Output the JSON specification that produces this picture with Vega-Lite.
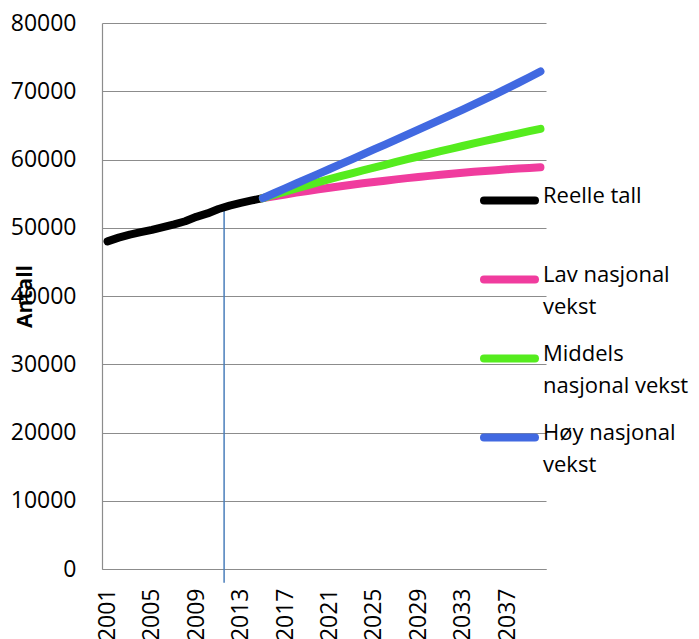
{
  "$schema": "https://vega.github.io/schema/vega-lite/v6.json",
  "width": 444,
  "height": 546,
  "autosize": "none",
  "padding": {"left": 102, "top": 23, "right": 153, "bottom": 70},
  "background": "white",
  "config": {"view": {"stroke": null}, "font": "Open Sans"},
  "datasets": {
    "marker": [{"year": 2011.5, "value": 53000, "value2": -2000}],
    "series": [
      {"series": "Reelle tall", "year": 2001, "value": 48000},
      {"series": "Reelle tall", "year": 2002, "value": 48550},
      {"series": "Reelle tall", "year": 2003, "value": 49000},
      {"series": "Reelle tall", "year": 2004, "value": 49350},
      {"series": "Reelle tall", "year": 2005, "value": 49700},
      {"series": "Reelle tall", "year": 2006, "value": 50100},
      {"series": "Reelle tall", "year": 2007, "value": 50500},
      {"series": "Reelle tall", "year": 2008, "value": 50950},
      {"series": "Reelle tall", "year": 2009, "value": 51600},
      {"series": "Reelle tall", "year": 2010, "value": 52100},
      {"series": "Reelle tall", "year": 2011, "value": 52750},
      {"series": "Reelle tall", "year": 2012, "value": 53250},
      {"series": "Reelle tall", "year": 2013, "value": 53650},
      {"series": "Reelle tall", "year": 2014, "value": 54000},
      {"series": "Reelle tall", "year": 2015, "value": 54350},
      {"series": "Lav nasjonal vekst", "year": 2015, "value": 54350},
      {"series": "Lav nasjonal vekst", "year": 2016, "value": 54620},
      {"series": "Lav nasjonal vekst", "year": 2017, "value": 54880},
      {"series": "Lav nasjonal vekst", "year": 2018, "value": 55140},
      {"series": "Lav nasjonal vekst", "year": 2019, "value": 55390},
      {"series": "Lav nasjonal vekst", "year": 2020, "value": 55630},
      {"series": "Lav nasjonal vekst", "year": 2021, "value": 55860},
      {"series": "Lav nasjonal vekst", "year": 2022, "value": 56080},
      {"series": "Lav nasjonal vekst", "year": 2023, "value": 56300},
      {"series": "Lav nasjonal vekst", "year": 2024, "value": 56510},
      {"series": "Lav nasjonal vekst", "year": 2025, "value": 56710},
      {"series": "Lav nasjonal vekst", "year": 2026, "value": 56900},
      {"series": "Lav nasjonal vekst", "year": 2027, "value": 57090},
      {"series": "Lav nasjonal vekst", "year": 2028, "value": 57270},
      {"series": "Lav nasjonal vekst", "year": 2029, "value": 57440},
      {"series": "Lav nasjonal vekst", "year": 2030, "value": 57600},
      {"series": "Lav nasjonal vekst", "year": 2031, "value": 57760},
      {"series": "Lav nasjonal vekst", "year": 2032, "value": 57910},
      {"series": "Lav nasjonal vekst", "year": 2033, "value": 58050},
      {"series": "Lav nasjonal vekst", "year": 2034, "value": 58190},
      {"series": "Lav nasjonal vekst", "year": 2035, "value": 58320},
      {"series": "Lav nasjonal vekst", "year": 2036, "value": 58440},
      {"series": "Lav nasjonal vekst", "year": 2037, "value": 58560},
      {"series": "Lav nasjonal vekst", "year": 2038, "value": 58670},
      {"series": "Lav nasjonal vekst", "year": 2039, "value": 58770},
      {"series": "Lav nasjonal vekst", "year": 2040, "value": 58870},
      {"series": "Middels nasjonal vekst", "year": 2015, "value": 54350},
      {"series": "Middels nasjonal vekst", "year": 2016, "value": 54830},
      {"series": "Middels nasjonal vekst", "year": 2017, "value": 55300},
      {"series": "Middels nasjonal vekst", "year": 2018, "value": 55760},
      {"series": "Middels nasjonal vekst", "year": 2019, "value": 56220},
      {"series": "Middels nasjonal vekst", "year": 2020, "value": 56670},
      {"series": "Middels nasjonal vekst", "year": 2021, "value": 57110},
      {"series": "Middels nasjonal vekst", "year": 2022, "value": 57550},
      {"series": "Middels nasjonal vekst", "year": 2023, "value": 57980},
      {"series": "Middels nasjonal vekst", "year": 2024, "value": 58400},
      {"series": "Middels nasjonal vekst", "year": 2025, "value": 58820},
      {"series": "Middels nasjonal vekst", "year": 2026, "value": 59230},
      {"series": "Middels nasjonal vekst", "year": 2027, "value": 59640},
      {"series": "Middels nasjonal vekst", "year": 2028, "value": 60040},
      {"series": "Middels nasjonal vekst", "year": 2029, "value": 60440},
      {"series": "Middels nasjonal vekst", "year": 2030, "value": 60830},
      {"series": "Middels nasjonal vekst", "year": 2031, "value": 61220},
      {"series": "Middels nasjonal vekst", "year": 2032, "value": 61600},
      {"series": "Middels nasjonal vekst", "year": 2033, "value": 61980},
      {"series": "Middels nasjonal vekst", "year": 2034, "value": 62350},
      {"series": "Middels nasjonal vekst", "year": 2035, "value": 62720},
      {"series": "Middels nasjonal vekst", "year": 2036, "value": 63080},
      {"series": "Middels nasjonal vekst", "year": 2037, "value": 63440},
      {"series": "Middels nasjonal vekst", "year": 2038, "value": 63800},
      {"series": "Middels nasjonal vekst", "year": 2039, "value": 64150},
      {"series": "Middels nasjonal vekst", "year": 2040, "value": 64500},
      {"series": "Høy nasjonal vekst", "year": 2015, "value": 54350},
      {"series": "Høy nasjonal vekst", "year": 2016, "value": 55060},
      {"series": "Høy nasjonal vekst", "year": 2017, "value": 55770},
      {"series": "Høy nasjonal vekst", "year": 2018, "value": 56480},
      {"series": "Høy nasjonal vekst", "year": 2019, "value": 57190},
      {"series": "Høy nasjonal vekst", "year": 2020, "value": 57900},
      {"series": "Høy nasjonal vekst", "year": 2021, "value": 58610},
      {"series": "Høy nasjonal vekst", "year": 2022, "value": 59320},
      {"series": "Høy nasjonal vekst", "year": 2023, "value": 60030},
      {"series": "Høy nasjonal vekst", "year": 2024, "value": 60750},
      {"series": "Høy nasjonal vekst", "year": 2025, "value": 61470},
      {"series": "Høy nasjonal vekst", "year": 2026, "value": 62190},
      {"series": "Høy nasjonal vekst", "year": 2027, "value": 62910},
      {"series": "Høy nasjonal vekst", "year": 2028, "value": 63640},
      {"series": "Høy nasjonal vekst", "year": 2029, "value": 64370},
      {"series": "Høy nasjonal vekst", "year": 2030, "value": 65100},
      {"series": "Høy nasjonal vekst", "year": 2031, "value": 65840},
      {"series": "Høy nasjonal vekst", "year": 2032, "value": 66580},
      {"series": "Høy nasjonal vekst", "year": 2033, "value": 67320},
      {"series": "Høy nasjonal vekst", "year": 2034, "value": 68070},
      {"series": "Høy nasjonal vekst", "year": 2035, "value": 68840},
      {"series": "Høy nasjonal vekst", "year": 2036, "value": 69620},
      {"series": "Høy nasjonal vekst", "year": 2037, "value": 70410},
      {"series": "Høy nasjonal vekst", "year": 2038, "value": 71220},
      {"series": "Høy nasjonal vekst", "year": 2039, "value": 72050},
      {"series": "Høy nasjonal vekst", "year": 2040, "value": 72900}
    ]
  },
  "encoding": {
    "x": {
      "field": "year",
      "type": "quantitative",
      "scale": {"domain": [2000.5, 2040.5], "nice": false, "zero": false},
      "axis": {
        "title": null,
        "values": [2001, 2005, 2009, 2013, 2017, 2021, 2025, 2029, 2033, 2037],
        "format": "d",
        "labelAngle": -90,
        "labelAlign": "right",
        "labelBaseline": "middle",
        "labelFont": "Open Sans",
        "labelFontSize": 23,
        "labelColor": "black",
        "labelPadding": 19,
        "labelFlush": false,
        "labelOverlap": false,
        "ticks": false,
        "grid": false,
        "domainColor": "#8c8c8c",
        "domainWidth": 1.2
      }
    },
    "y": {
      "field": "value",
      "type": "quantitative",
      "scale": {"domain": [0, 80000], "nice": false},
      "axis": {
        "title": "Antall",
        "titleFont": "Open Sans",
        "titleFontWeight": "bold",
        "titleFontSize": 21,
        "titleColor": "black",
        "titleAngle": -90,
        "titleX": -77,
        "titleY": 273,
        "titleAlign": "center",
        "titleBaseline": "middle",
        "values": [0, 10000, 20000, 30000, 40000, 50000, 60000, 70000, 80000],
        "format": "d",
        "labelFont": "Open Sans",
        "labelFontSize": 23,
        "labelColor": "black",
        "labelPadding": 26,
        "labelFlush": false,
        "labelOverlap": false,
        "ticks": false,
        "grid": true,
        "gridColor": "#8c8c8c",
        "gridWidth": 1.2,
        "domainColor": "#8c8c8c",
        "domainWidth": 1.2
      }
    }
  },
  "layer": [
    {
      "data": {"name": "marker"},
      "mark": {"type": "rule", "color": "#4a7ebb", "strokeWidth": 1.5},
      "encoding": {"y2": {"field": "value2"}}
    },
    {
      "data": {"name": "series"},
      "mark": {"type": "line", "strokeWidth": 8, "strokeCap": "round", "strokeJoin": "round"},
      "encoding": {
        "color": {
          "field": "series",
          "type": "nominal",
          "scale": {
            "domain": ["Reelle tall", "Lav nasjonal vekst", "Middels nasjonal vekst", "Høy nasjonal vekst"],
            "range": ["#000000", "#f03c9e", "#55ec1e", "#4169e1"]
          },
          "legend": {
            "title": null,
            "orient": "none",
            "legendX": 378,
            "legendY": 148,
            "padding": 0,
            "symbolType": "stroke",
            "symbolSize": 2600,
            "symbolStrokeWidth": 8,
            "labelFont": "Open Sans",
            "labelFontSize": 22,
            "labelColor": "black",
            "labelOffset": 4,
            "labelLimit": 400,
            "labelBaseline": "top",
            "gridAlign": "all",
            "rowPadding": 11,
            "labelExpr": "datum.label == 'Lav nasjonal vekst' ? ['Lav nasjonal', 'vekst'] : datum.label == 'Middels nasjonal vekst' ? ['Middels', 'nasjonal vekst'] : datum.label == 'Høy nasjonal vekst' ? ['Høy nasjonal', 'vekst'] : datum.label",
            "encode": {
              "labels": {"update": {"dy": {"value": -15}, "lineHeight": {"value": 32}}},
              "symbols": {"update": {"strokeCap": {"value": "round"}}}
            }
          }
        }
      }
    }
  ]
}
